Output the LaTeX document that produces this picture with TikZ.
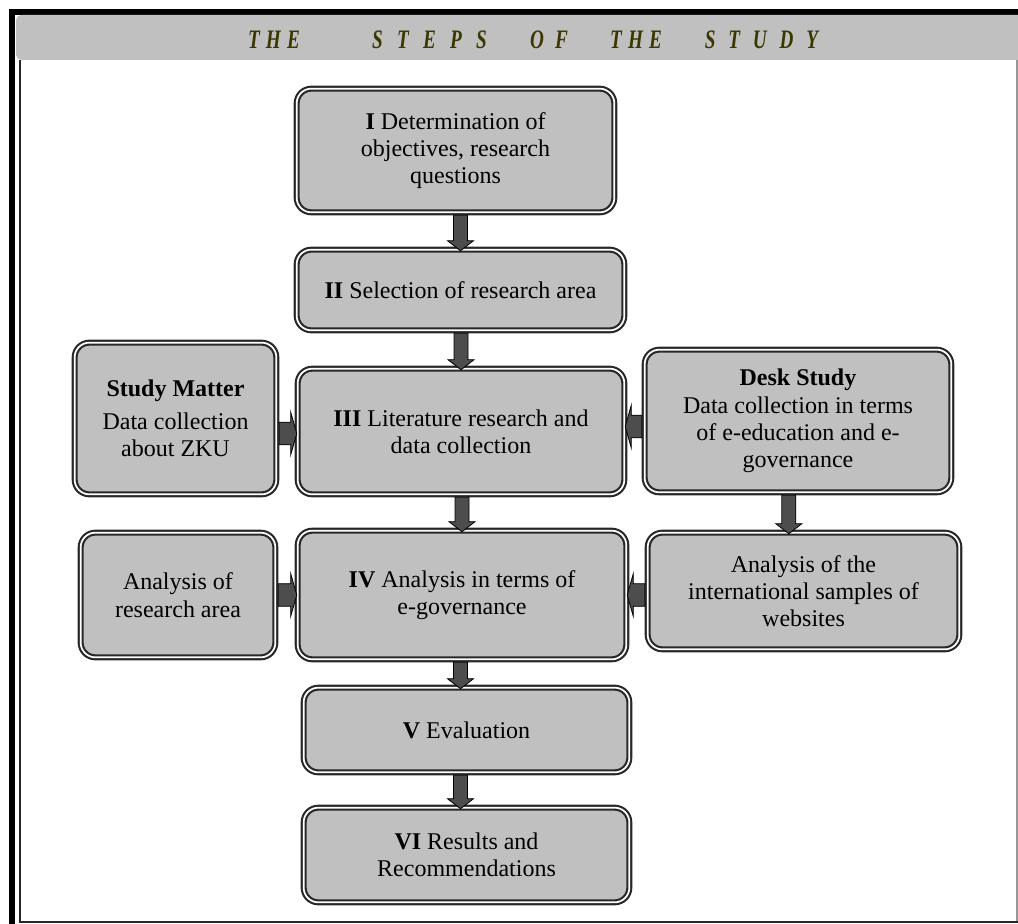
\documentclass[tikz,border=0pt]{standalone}
\usepackage{fontspec}
\usepackage{graphicx}
\setmainfont{Liberation Serif}
\usetikzlibrary{calc}
\definecolor{boxgray}{RGB}{192,192,192}
\definecolor{linegray}{RGB}{40,40,40}
\definecolor{arrowgray}{RGB}{77,77,77}
\definecolor{titlecol}{RGB}{58,56,0}
\definecolor{edgegray}{RGB}{150,150,150}
\newcommand\cl[1]{\scalebox{0.72}[1]{#1}}
\tikzset{
  stepbox/.style={draw=linegray, double=white, double distance=1.3pt, line width=1.6pt,
    fill=boxgray, rounded corners=11pt, align=center, inner sep=0pt, outer sep=2.2pt,
    font=\fontsize{18}{20.5}\selectfont},
  blk/.style={fill=arrowgray, draw=black, line width=0.6pt, line join=miter},
  titleword/.style={font=\fontsize{20}{21}\selectfont\bfseries\itshape, text=titlecol, inner sep=0pt}
}
% vertical block arrow: [x shift] source target
\newcommand\blkdown[3][0pt]{\draw[blk] let \p1=(#2.south), \p2=(#3.north) in
  (\x2+#1-5.25pt,\y1) -- (\x2+#1-5.25pt,\y2+4.5pt) -- (\x2+#1-9.75pt,\y2+4.5pt) --
  (\x2+#1,\y2-3pt) -- (\x2+#1+9.75pt,\y2+4.5pt) -- (\x2+#1+5.25pt,\y2+4.5pt) --
  (\x2+#1+5.25pt,\y1) -- cycle;}
% horizontal block arrows: [y shift] source target
\newcommand\blkright[3][0pt]{\draw[blk] let \p1=(#2.east), \p2=(#3.west) in
  (\x1,\y2+#1+8.5pt) -- (\x2-3pt,\y2+#1+8.5pt) -- (\x2-3pt,\y2+#1+16pt) --
  (\x2+1.5pt,\y2+#1) -- (\x2-3pt,\y2+#1-16pt) -- (\x2-3pt,\y2+#1-8.5pt) --
  (\x1,\y2+#1-8.5pt) -- cycle;}
\newcommand\blkleft[3][0pt]{\draw[blk] let \p1=(#2.west), \p2=(#3.east) in
  (\x1,\y2+#1+8.5pt) -- (\x2+3pt,\y2+#1+8.5pt) -- (\x2+3pt,\y2+#1+16pt) --
  (\x2-1.5pt,\y2+#1) -- (\x2+3pt,\y2+#1-16pt) -- (\x2+3pt,\y2+#1-8.5pt) --
  (\x1,\y2+#1-8.5pt) -- cycle;}
\begin{document}
\begin{tikzpicture}[x=0.75pt,y=-0.75pt]
\useasboundingbox (0,0) rectangle (1018,924);
% frame
\fill[black] (9,9) rectangle (1018,15);
\fill[black] (9,9) rectangle (15,924);
\fill[boxgray, rounded corners=4pt] (1030,60) -- (16,60) -- (16,15) -- (1030,15);
\fill[white] (1018,0) rectangle (1030,924);
\draw[linegray, line width=1.5pt] (19.5,60) -- (19.5,921.5) -- (1018,921.5);
\draw[edgegray, line width=0.8pt] (1017,60) -- (1017,921);
% title
\node[titleword] (t1) at (274,40) {\makebox[39pt][s]{\cl{T}\hfill\cl{H}\hfill\cl{E}}};
\node[titleword] (t2) at (429.5,40) {\makebox[86pt][s]{\cl{S}\hfill\cl{T}\hfill\cl{E}\hfill\cl{P}\hfill\cl{S}}};
\node[titleword] (t3) at (549,40) {\makebox[28.5pt][s]{\cl{O}\hfill\cl{F}}};
\node[titleword] (t4) at (636,40) {\makebox[39pt][s]{\cl{T}\hfill\cl{H}\hfill\cl{E}}};
\node[titleword] (t5) at (761.5,40) {\makebox[85pt][s]{\cl{S}\hfill\cl{T}\hfill\cl{U}\hfill\cl{D}\hfill\cl{Y}}};
% boxes
\node[stepbox, minimum width=238.25pt, minimum height=92.75pt] (s1) at (455.5,150.5)
  {\textbf{I} Determination of\\objectives, research\\questions};
\node[stepbox, minimum width=245.75pt, minimum height=60.5pt] (s2) at (460.5,290)
  {\textbf{II} Selection of research area};
\node[stepbox, minimum width=151.25pt, minimum height=113.75pt] (sm) at (175.5,418.5)
  {\textbf{Study Matter}\\[4pt]Data collection\\about ZKU};
\node[stepbox, minimum width=245pt, minimum height=94.25pt] (s3) at (461,431.5)
  {\textbf{III} Literature research and\\data collection};
\node[stepbox, minimum width=230pt, minimum height=107pt] (ds) at (798,421)
  {\textbf{Desk Study}\\Data collection in terms\\of e-education and e-\\governance};
\node[stepbox, minimum width=146pt, minimum height=93.5pt] (ara) at (178,595)
  {Analysis of\\research area};
\node[stepbox, minimum width=246.5pt, minimum height=96.5pt] (s4) at (462,595)
  {\textbf{IV} Analysis in terms of\\e-governance};
\node[stepbox, minimum width=233.75pt, minimum height=87.5pt] (ais) at (803.5,591)
  {Analysis of the\\international samples of\\websites};
\node[stepbox, minimum width=244.25pt, minimum height=63.5pt] (s5) at (466.5,730)
  {\textbf{V} Evaluation};
\node[stepbox, minimum width=244.25pt, minimum height=71pt] (s6) at (466.5,855)
  {\textbf{VI} Results and\\Recommendations};
% arrows
\blkdown{s1}{s2}
\blkdown{s2}{s3}
\blkdown{s3}{s4}
\blkdown[-4.5pt]{s4}{s5}
\blkdown[-4.5pt]{s5}{s6}
\blkdown[-11pt]{ds}{ais}
\blkright[-1.5pt]{sm}{s3}
\blkleft[3.75pt]{ds}{s3}
\blkright{ara}{s4}
\blkleft{ais}{s4}
\end{tikzpicture}
\end{document}
